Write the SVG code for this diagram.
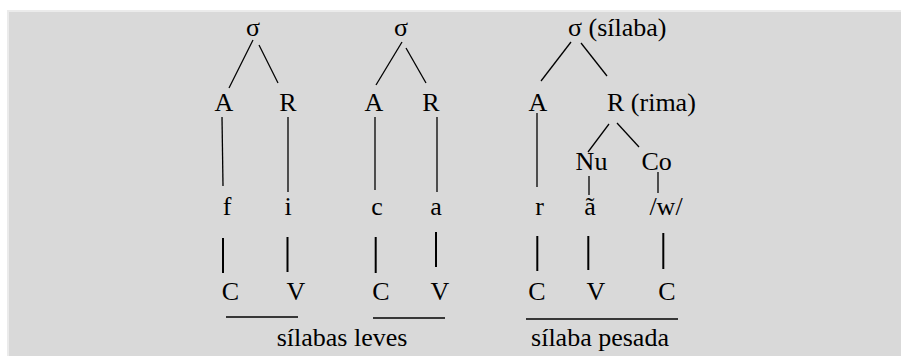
<svg xmlns="http://www.w3.org/2000/svg" width="901" height="356" viewBox="0 0 901 356">
  <style>
    text { font-family: "Liberation Serif", "Times New Roman", serif; font-size: 26px; fill: #000; }
    .c { text-anchor: middle; }
    .thin { stroke: #000; stroke-width: 1.3; fill: none; }
    .thick { stroke: #000; stroke-width: 2; fill: none; }
    .rule { stroke: #000; stroke-width: 1.5; fill: none; }
  </style>

  <!-- page and panel -->
  <rect x="0" y="0" width="901" height="356" fill="#ffffff"/>
  <rect x="7" y="10" width="894" height="346" fill="#ebebeb"/>
  <rect x="9" y="12" width="892" height="344" fill="#d9d9d9"/>

  <!-- connectors -->
  <g id="connectors">
    <!-- fi -->
    <line class="thin" x1="253" y1="40" x2="229" y2="88"/>
    <line class="thin" x1="259" y1="45" x2="278" y2="83"/>
    <line class="thin" x1="222" y1="117" x2="223" y2="186"/>
    <line class="thin" x1="288" y1="117" x2="288" y2="192"/>
    <line class="thick" x1="223" y1="238" x2="223" y2="273"/>
    <line class="thick" x1="287.5" y1="237" x2="287.5" y2="272"/>
    <!-- ca -->
    <line class="thin" x1="402" y1="42" x2="376" y2="85"/>
    <line class="thin" x1="406" y1="48" x2="426" y2="83"/>
    <line class="thin" x1="375" y1="117" x2="375" y2="190"/>
    <line class="thin" x1="437" y1="117" x2="437" y2="192"/>
    <line class="thick" x1="375.7" y1="237" x2="375.7" y2="273"/>
    <line class="thick" x1="436" y1="232" x2="436" y2="267"/>
    <!-- rã/w/ -->
    <line class="thin" x1="571" y1="42" x2="541" y2="81"/>
    <line class="thin" x1="581" y1="43" x2="607" y2="76"/>
    <line class="thin" x1="537" y1="113" x2="537" y2="187"/>
    <line class="thin" x1="609" y1="124" x2="588" y2="152"/>
    <line class="thin" x1="617" y1="123" x2="639" y2="147"/>
    <line class="thin" x1="589" y1="176" x2="589" y2="195"/>
    <line class="thin" x1="658" y1="172" x2="658" y2="193"/>
    <line class="thick" x1="537.3" y1="236" x2="537.3" y2="271"/>
    <line class="thick" x1="588.3" y1="236" x2="588.3" y2="270"/>
    <line class="thick" x1="663.3" y1="233" x2="663.3" y2="269"/>
    <!-- grouping rules -->
    <line class="rule" x1="226" y1="317" x2="298" y2="317"/>
    <line class="rule" x1="373" y1="318" x2="445" y2="318"/>
    <line class="rule" x1="526" y1="319" x2="678" y2="319"/>
  </g>

  <!-- tree 1: fi -->
  <g id="t1-sigma"><text class="c" x="253" y="36">σ</text></g>
  <g id="t1-A"><text class="c" x="224" y="111">A</text></g>
  <g id="t1-R"><text class="c" x="288" y="111">R</text></g>
  <g id="t1-f"><text class="c" x="227" y="215">f</text></g>
  <g id="t1-i"><text class="c" x="288" y="215">i</text></g>
  <g id="t1-C"><text class="c" x="230.5" y="300">C</text></g>
  <g id="t1-V"><text class="c" x="296" y="300">V</text></g>

  <!-- tree 2: ca -->
  <g id="t2-sigma"><text class="c" x="401" y="36">σ</text></g>
  <g id="t2-A"><text class="c" x="374" y="111">A</text></g>
  <g id="t2-R"><text class="c" x="431" y="111">R</text></g>
  <g id="t2-c"><text class="c" x="377" y="215">c</text></g>
  <g id="t2-a"><text class="c" x="436" y="215">a</text></g>
  <g id="t2-C"><text class="c" x="381" y="300">C</text></g>
  <g id="t2-V"><text class="c" x="440" y="300">V</text></g>

  <!-- tree 3: rã/w/ -->
  <g id="t3-sigma"><text x="568" y="36">σ (sílaba)</text></g>
  <g id="t3-A"><text class="c" x="538" y="111">A</text></g>
  <g id="t3-R"><text x="607" y="111">R (rima)</text></g>
  <g id="t3-Nu"><text class="c" x="591.5" y="170">Nu</text></g>
  <g id="t3-Co"><text class="c" x="656.7" y="170">Co</text></g>
  <g id="t3-r"><text class="c" x="539.5" y="215">r</text></g>
  <g id="t3-a"><text class="c" x="590" y="215">ã</text></g>
  <g id="t3-w"><text class="c" x="666" y="215">/w/</text></g>
  <g id="t3-C1"><text class="c" x="537" y="300">C</text></g>
  <g id="t3-V"><text class="c" x="596" y="300">V</text></g>
  <g id="t3-C2"><text class="c" x="667" y="300">C</text></g>

  <!-- captions -->
  <g id="label-leves"><text class="c" x="342" y="346">sílabas leves</text></g>
  <g id="label-pesada"><text class="c" x="600" y="346">sílaba pesada</text></g>
</svg>
